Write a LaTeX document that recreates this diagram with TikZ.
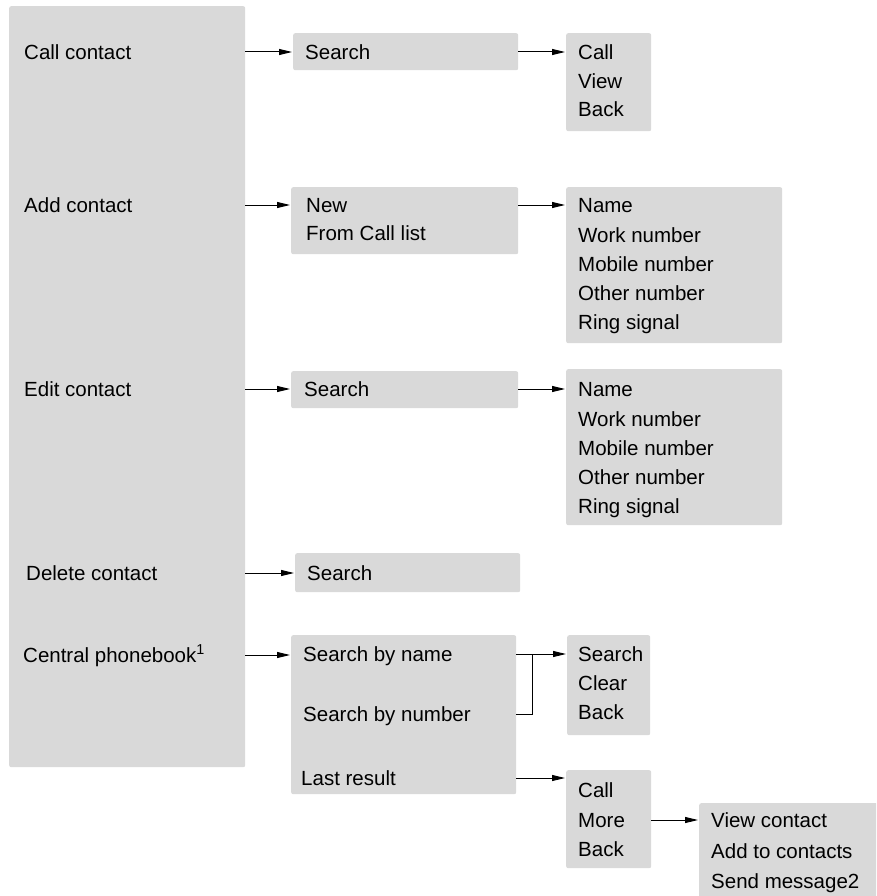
\documentclass[tikz,border=0pt]{standalone}
\usepackage{fontspec}
\setmainfont{Liberation Sans}
\usetikzlibrary{arrows.meta}
\definecolor{boxgray}{HTML}{D9D9D9}
\begin{document}
\begin{tikzpicture}[x=1pt,y=-1pt,
  box/.style={fill=boxgray, rounded corners=2pt, inner sep=0pt, anchor=north west},
  lbl/.style={anchor=west, inner sep=0pt, text height=15pt, text depth=0pt, font=\fontsize{20.5}{24}\selectfont},
  arr/.style={-{Triangle[length=13pt,width=6pt]}, line width=1pt, shorten >=1pt},
  conn/.style={line width=1pt}]
\clip (0,0) rectangle (876,896);
\useasboundingbox (0,0) rectangle (876,896);
% boxes
\node[box, minimum width=236pt, minimum height=761pt] (main) at (9,6) {};
\node[box, minimum width=225pt, minimum height=37pt] (s1) at (293,33) {};
\node[box, minimum width=85pt, minimum height=98pt] (b1) at (566,33) {};
\node[box, minimum width=227pt, minimum height=67pt] (n2) at (291,187) {};
\node[box, minimum width=216pt, minimum height=156pt] (b2) at (566,187) {};
\node[box, minimum width=227pt, minimum height=37pt] (s3) at (291,371) {};
\node[box, minimum width=216pt, minimum height=156pt] (b3) at (566,369) {};
\node[box, minimum width=225pt, minimum height=39pt] (s4) at (295,553) {};
\node[box, minimum width=225pt, minimum height=159pt] (cp) at (291,635) {};
\node[box, minimum width=83pt, minimum height=100pt] (scb) at (567,635) {};
\node[box, minimum width=85pt, minimum height=98pt] (cmb) at (566,770) {};
\node[box, minimum width=190pt, minimum height=110pt] (vc) at (699,803) {};
% left labels
\node[lbl] (ccl) at (24,52) {Call contact};
\node[lbl] (acl) at (24,205) {Add contact};
\node[lbl] (ecl) at (24,389) {Edit contact};
\node[lbl] (dcl) at (26,573) {Delete contact};
\node[lbl] (cpl) at (23,655) {Central phonebook\textsuperscript{1}};
% row 1
\node[lbl] (s1t) at (305,52) {Search};
\node[lbl] (b1a) at (578,52) {Call};
\node[lbl] (b1b) at (578,81) {View};
\node[lbl] (b1c) at (578,109) {Back};
% row 2
\node[lbl] (n2a) at (306,205) {New};
\node[lbl] (n2b) at (306,233) {From Call list};
\node[lbl] (b2a) at (578,205) {Name};
\node[lbl] (b2b) at (578,235) {Work number};
\node[lbl] (b2c) at (578,264) {Mobile number};
\node[lbl] (b2d) at (578,293) {Other number};
\node[lbl] (b2e) at (578,322) {Ring signal};
% row 3
\node[lbl] (s3t) at (304,389) {Search};
\node[lbl] (b3a) at (578,389) {Name};
\node[lbl] (b3b) at (578,419) {Work number};
\node[lbl] (b3c) at (578,448) {Mobile number};
\node[lbl] (b3d) at (578,477) {Other number};
\node[lbl] (b3e) at (578,506) {Ring signal};
% row 4
\node[lbl] (s4t) at (307,573) {Search};
% row 5
\node[lbl] (sbn) at (303,654) {Search by name};
\node[lbl] (sbm) at (303,714) {Search by number};
\node[lbl] (lr) at (301,778) {Last result};
\node[lbl] (scba) at (578,654) {Search};
\node[lbl] (scbb) at (578,683) {Clear};
\node[lbl] (scbc) at (578,712) {Back};
\node[lbl] (cmba) at (578,790) {Call};
\node[lbl] (cmbb) at (578,820) {More};
\node[lbl] (cmbc) at (578,849) {Back};
\node[lbl] (vca) at (711,820) {View contact};
\node[lbl] (vcb) at (711,851) {Add to contacts};
\node[lbl] (vcc) at (711,881) {Send message2};
% connectors
\draw[arr] (main.east |- ccl) -- (s1.west |- ccl);
\draw[arr] (s1.east |- ccl) -- (b1.west |- ccl);
\draw[arr] (main.east |- acl) -- (n2.west |- acl);
\draw[arr] (n2.east |- acl) -- (b2.west |- acl);
\draw[arr] (main.east |- ecl) -- (s3.west |- ecl);
\draw[arr] (s3.east |- ecl) -- (b3.west |- ecl);
\draw[arr] (main.east |- dcl) -- (s4.west |- dcl);
\draw[arr] (main.east |- cpl) -- (cp.west |- cpl);
\draw[arr] (cp.east |- sbn) -- (scb.west |- sbn);
\coordinate (jn) at (532,654);
\draw[conn] (cp.east |- sbm) -| (jn);
\draw[arr] (cp.east |- lr) -- (cmb.west |- lr);
\draw[arr] (cmb.east |- cmbb) -- (vc.west |- cmbb);
\end{tikzpicture}
\end{document}
